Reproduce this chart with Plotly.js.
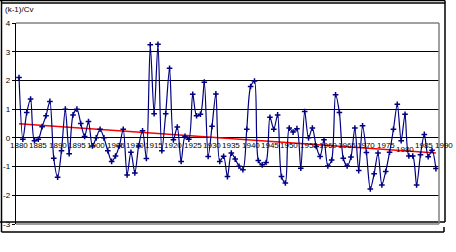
<!DOCTYPE html>
<html>
<head>
<meta charset="utf-8">
<script src="https://cdn.plot.ly/plotly-3.0.1.min.js"></script>
<style>html,body{margin:0;padding:0;background:#fff;}#chart{width:456px;height:252px;}</style>
</head>
<body>
<div id="chart"></div>
<script>
// Years of observation
var years = [1880,1881,1882,1883,1884,1885,1886,1887,1888,1889,
1890,1891,1892,1893,1894,1895,1896,1897,1898,1899,
1900,1901,1902,1903,1904,1905,1906,1907,1908,1909,
1910,1911,1912,1913,1914,1915,1916,1917,1918,1919,
1920,1921,1922,1923,1924,1925,1926,1927,1928,1929,
1930,1931,1932,1933,1934,1935,1936,1937,1938,1939,
1940,1941,1942,1943,1944,1945,1946,1947,1948,1949,
1950,1951,1952,1953,1954,1955,1956,1957,1958,1959,
1960,1961,1962,1963,1964,1965,1966,1967,1968,1969,
1970,1971,1972,1973,1974,1975,1976,1977,1978,1979,
1980,1981,1982,1983,1984,1985,1986,1987,1988];
// (k-1)/Cv values
var values = [2.10,-0.05,0.88,1.35,-0.10,-0.05,0.39,0.77,1.27,-0.71,
-1.37,-0.45,1.00,-0.55,0.80,1.00,0.50,0.05,0.57,-0.28,
0.00,0.30,0.00,-0.45,-0.82,-0.63,-0.28,0.30,-1.29,-0.50,
-1.22,-0.28,0.25,-0.72,3.24,0.84,3.26,-0.45,0.84,2.42,
-0.07,0.38,-0.82,0.05,-0.05,1.52,0.77,0.82,1.94,-0.65,
0.40,1.53,-0.82,-0.64,-1.35,-0.53,-0.74,-0.99,-1.11,0.30,
1.79,1.98,-0.79,-0.94,-0.86,0.72,0.30,0.80,-1.35,-1.57,
0.34,0.20,0.32,-1.06,0.92,0.00,0.34,-0.30,-0.65,-0.07,
-0.98,-0.77,1.50,0.88,-0.71,-0.98,-0.67,0.34,-1.14,0.42,
-0.51,-1.78,-1.25,-0.53,-1.64,-1.17,-0.50,0.30,1.17,-0.10,
0.82,-0.63,-0.63,-1.64,-0.59,0.12,-0.66,-0.43,-1.07];
// Linear trend end points
var trendYears = [1880, 1988];
var trendValues = [0.49, -0.53];
// Axis labels
var xTickYears = [1880,1885,1890,1895,1900,1905,1910,1915,1920,1925,1930,1935,1940,1945,1950,1955,1960,1965,1970,1975,1980,1985,1990];
var yTickVals = [-3,-2,-1,0,1,2,3,4];
var yTitle = "(k-1)/Cv";

var W = 456, H = 252;
var L = 16, R = 439, T = 23, B = 224;
var xRange = [1879.22, 1988.8];
var yRange = [-3, 4];
function px(x){ return (x - L) / (R - L); }
function py(y){ return (B - y) / (B - T); }
function yearToPaper(yr){ return (yr - xRange[0]) / (xRange[1] - xRange[0]); }
var zeroPaper = (0 - yRange[0]) / (yRange[1] - yRange[0]);

var font = "Liberation Sans Narrow, Liberation Sans, Arial, sans-serif";

var traces = [
  {
    x: trendYears, y: trendValues, type: 'scatter', mode: 'lines',
    line: {color: '#ff0000', width: 1.5}, hoverinfo: 'skip'
  },
  {
    x: years, y: values, type: 'scatter', mode: 'lines+markers',
    line: {color: '#000080', width: 1.2, shape: 'spline', smoothing: 0.8},
    marker: {symbol: 'cross-thin', size: 4, color: '#000080', line: {color: '#000080', width: 1.5}}
  }
];

var annotations = xTickYears.map(function(yr){
  return {
    x: yearToPaper(yr), y: zeroPaper, xref: 'paper', yref: 'paper',
    text: String(yr), showarrow: false, xanchor: 'center', yanchor: 'top',
    yshift: (yr === 1980 ? -5 : -1),
    font: {family: font, size: 8, color: '#000'}
  };
});
annotations.push({
  x: px(3), y: py(3), xref: 'paper', yref: 'paper', text: yTitle,
  showarrow: false, xanchor: 'left', yanchor: 'top',
  font: {family: font, size: 8, color: '#000'}
});

function ln(x0,y0,x1,y1,color,w){
  return {type:'line', xref:'paper', yref:'paper', x0:px(x0), y0:py(y0), x1:px(x1), y1:py(y1),
    line:{color:color, width:w}, layer:'above'};
}
var shapes = [
  // outer frame
  ln(0,0.5,445,0.5,'#000',1.5),
  ln(1.5,3,445,3,'#000',1.5),
  ln(1.5,0.5,1.5,232,'#000',1.5),
  ln(445,0.5,445,222,'#000',1.5),
  ln(0,222,445,222,'#000',1.5),
  ln(1.5,232,444,232,'#000',1.5),
  ln(444,227,444,232,'#000',1.5),
  // plot area border (grey)
  ln(L,T,R,T,'#808080',1.5),
  ln(R,T,R,B,'#808080',1.5),
  ln(L,B,R,B,'#808080',1.5)
];

var layout = {
  width: W, height: H,
  margin: {l: L, r: W - R, t: T, b: H - B, pad: 0},
  paper_bgcolor: '#fff', plot_bgcolor: '#fff',
  showlegend: false,
  xaxis: {range: xRange, showgrid: false, zeroline: false, showticklabels: false, ticks: '', showline: false, fixedrange: true},
  yaxis: {range: yRange, tickvals: yTickVals, ticktext: yTickVals.map(String),
    showgrid: true, gridcolor: '#000', gridwidth: 1,
    zeroline: true, zerolinecolor: '#000', zerolinewidth: 1.2,
    showline: true, linecolor: '#000', linewidth: 1.2,
    ticks: 'outside', ticklen: 3, tickcolor: '#000', tickwidth: 1,
    tickfont: {family: font, size: 8, color: '#000'}, fixedrange: true},
  annotations: annotations,
  shapes: shapes
};

Plotly.newPlot('chart', traces, layout, {displayModeBar: false, staticPlot: true});
</script>
</body>
</html>
